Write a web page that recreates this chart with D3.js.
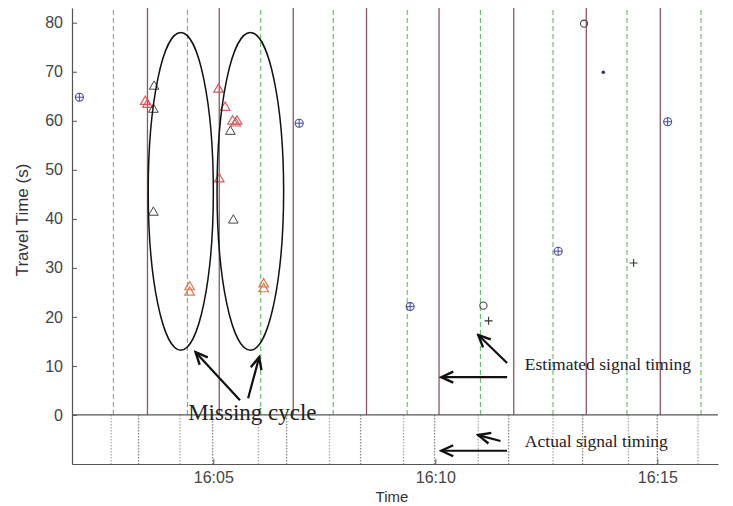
<!DOCTYPE html>
<html>
<head>
<meta charset="utf-8">
<script src="https://cdn.jsdelivr.net/npm/d3@7"></script>
<style>
body { margin: 0; background: #fff; }
.axis text { font-family: "Liberation Sans", Arial, sans-serif; font-size: 16px; fill: #444; }
.axis path, .axis line { stroke: #555; }
.note { font-family: "Liberation Serif", "Times New Roman", serif; fill: #222; }
</style>
</head>
<body>
<div id="chart"></div>
<script>
// estimated signal timing (upper panel)
const estRedStart = ["16:03:31", "16:05:08", "16:06:48", "16:08:27", "16:10:05", "16:11:46", "16:13:24", "16:15:04"];
const estGreenStart = ["16:02:45", "16:04:25", "16:06:04", "16:07:42", "16:09:22", "16:11:01", "16:12:39", "16:14:19", "16:15:59"];
// actual signal timing (lower panel)
const actLight = ["16:02:42", "16:04:15", "16:06:01", "16:07:37", "16:09:17", "16:10:58", "16:12:39", "16:14:21", "16:15:55"];
const actDark = ["16:03:19", "16:04:59", "16:06:39", "16:08:19", "16:09:59", "16:11:39", "16:13:19", "16:15:00"];

// travel time samples [time, seconds]
const redTriangles = [
    ["16:03:28", 63.9], ["16:03:31", 63.3], ["16:04:28", 26.1], ["16:04:28", 25.0],
    ["16:05:07", 66.4], ["16:05:16", 62.7], ["16:05:26", 59.9], ["16:05:30", 59.5],
    ["16:05:32", 59.9], ["16:05:08", 48.1], ["16:06:08", 26.7], ["16:06:08", 25.7]
];
const blackTriangles = [
    ["16:03:40", 67.0], ["16:03:39", 62.3], ["16:03:39", 41.3], ["16:05:23", 57.8], ["16:05:27", 39.7]
];
const blueCrossCircles = [
    ["16:01:59", 64.8], ["16:06:56", 59.5], ["16:09:26", 22.1], ["16:12:46", 33.4], ["16:15:14", 59.8]
];
const blueDots = [["16:13:47", 69.9]];
const blackCircles = [["16:13:21", 79.8], ["16:11:05", 22.3]];
const blackPlus = [["16:14:28", 31.0], ["16:11:12", 19.2]];

const yTicks = [0, 10, 20, 30, 40, 50, 60, 70, 80];
const xTicks = ["16:05:00", "16:10:00", "16:15:00"];

// annotations
const ellipses = [
    { t: "16:04:16", v: 45.6, dt: 44, dv: 32.4 },
    { t: "16:05:50", v: 45.6, dt: 45, dv: 32.4 }
];
const arrows = [
    { from: ["16:05:36", 3.0], to: ["16:04:36", 12.8] },
    { from: ["16:05:47", 3.4], to: ["16:06:02", 11.8] },
    { from: ["16:11:37", 7.7], to: ["16:10:08", 7.7] },
    { from: ["16:11:37", 10.6], to: ["16:10:58", 16.3] },
    { from: ["16:11:37", -7.3], to: ["16:10:08", -7.3] },
    { from: ["16:11:28", -5.3], to: ["16:10:58", -4.1] }
];
const notes = [
    { text: "Missing cycle", t: "16:04:26", v: -1.1, size: 23 },
    { text: "Estimated signal timing", t: "16:12:01", v: 9.2, size: 17.5 },
    { text: "Actual signal timing", t: "16:12:01", v: -6.6, size: 17.5 }
];

const parse = d3.timeParse("%H:%M:%S");

class TravelChart {
    constructor(width, height) {
        this.width = width;
        this.height = height;
        this.x = d3.scaleTime()
            .domain([parse("16:01:49"), parse("16:16:22")])
            .range([72, 718]);
        this.y = d3.scaleLinear()
            .domain([-10, 83])
            .range([464, 8]);
    }

    renderSvg(id) {
        this.svg = d3.select(id).append("svg")
            .attr("width", this.width)
            .attr("height", this.height);
        this.svg.append("rect").attr("width", this.width).attr("height", this.height).attr("fill", "#fff");

        this.svg.append("defs").append("marker")
            .attr("id", "head")
            .attr("viewBox", "-14 -7 16 14")
            .attr("refX", 0).attr("refY", 0)
            .attr("markerWidth", 16).attr("markerHeight", 14)
            .attr("markerUnits", "userSpaceOnUse")
            .attr("orient", "auto")
            .append("path")
            .attr("d", "M-12,-5.5 L0,0 L-12,5.5")
            .attr("fill", "none")
            .attr("stroke", "#111")
            .attr("stroke-width", 2.4);
    }

    renderSignalLines() {
        const x = this.x, y = this.y;
        const g = this.svg.append("g");
        g.selectAll(".green").data(estGreenStart).enter().append("line")
            .attr("x1", d => x(parse(d))).attr("x2", d => x(parse(d)))
            .attr("y1", y(0)).attr("y2", y(83))
            .attr("stroke", "#6cbf72").attr("stroke-width", 1.2)
            .attr("stroke-dasharray", "5,3");
        g.selectAll(".red").data(estRedStart).enter().append("line")
            .attr("x1", d => x(parse(d))).attr("x2", d => x(parse(d)))
            .attr("y1", y(0)).attr("y2", y(83))
            .attr("stroke", "#8e5565").attr("stroke-width", 1.3);
        g.selectAll(".light").data(actLight).enter().append("line")
            .attr("x1", d => x(parse(d))).attr("x2", d => x(parse(d)))
            .attr("y1", y(0)).attr("y2", y(-10))
            .attr("stroke", "#aaa").attr("stroke-width", 1.3)
            .attr("stroke-dasharray", "1.5,1.5");
        g.selectAll(".dark").data(actDark).enter().append("line")
            .attr("x1", d => x(parse(d))).attr("x2", d => x(parse(d)))
            .attr("y1", y(0)).attr("y2", y(-10))
            .attr("stroke", "#888").attr("stroke-width", 1.3)
            .attr("stroke-dasharray", "1.5,1.5");
    }

    renderAxis() {
        const x = this.x, y = this.y;
        this.svg.append("line")
            .attr("x1", x.range()[0]).attr("x2", x.range()[1])
            .attr("y1", y(0)).attr("y2", y(0))
            .attr("stroke", "#555").attr("stroke-width", 1.2);

        this.svg.append("g")
            .attr("class", "axis")
            .attr("transform", "translate(0," + y(-10) + ")")
            .call(d3.axisBottom(x).tickValues(xTicks.map(parse))
                .tickFormat(d3.timeFormat("%H:%M")).tickSizeInner(-5).tickSizeOuter(0).tickPadding(8));

        this.svg.append("g")
            .attr("class", "axis")
            .attr("transform", "translate(" + x.range()[0] + ",0)")
            .call(d3.axisLeft(y).tickValues(yTicks).tickSizeInner(-5).tickSizeOuter(0).tickPadding(9));

        this.svg.selectAll(".axis path").attr("stroke-width", 1.2);
    }

    renderLabels() {
        this.svg.append("text")
            .attr("transform", "rotate(-90)")
            .attr("x", -220)
            .attr("y", 28)
            .style("text-anchor", "middle")
            .style("font-family", "Liberation Sans, Arial, sans-serif")
            .style("font-size", "17px")
            .style("fill", "#333")
            .text("Travel Time (s)");

        this.svg.append("text")
            .attr("x", 392)
            .attr("y", 502)
            .style("text-anchor", "middle")
            .style("font-family", "Liberation Sans, Arial, sans-serif")
            .style("font-size", "15px")
            .style("fill", "#333")
            .text("Time");
    }

    renderMarkers() {
        const x = this.x, y = this.y;
        const tri = d3.symbol().type(d3.symbolTriangle).size(40);
        const g = this.svg.append("g");

        g.selectAll(".rt").data(redTriangles).enter().append("path")
            .attr("d", tri)
            .attr("transform", d => "translate(" + x(parse(d[0])) + "," + y(d[1]) + ")")
            .attr("fill", "none")
            .attr("stroke", d => d[1] < 30 ? "#e07850" : "#d85a5e")
            .attr("stroke-width", 1.2);

        g.selectAll(".bt").data(blackTriangles).enter().append("path")
            .attr("d", tri)
            .attr("transform", d => "translate(" + x(parse(d[0])) + "," + y(d[1]) + ")")
            .attr("fill", "none")
            .attr("stroke", "#444")
            .attr("stroke-width", 1);

        const cross = g.selectAll(".bc").data(blueCrossCircles).enter().append("g")
            .attr("transform", d => "translate(" + x(parse(d[0])) + "," + y(d[1]) + ")");
        cross.append("circle").attr("r", 4).attr("fill", "none").attr("stroke", "#4a4aa6").attr("stroke-width", 1.1);
        cross.append("path").attr("d", "M-4,0H4M0,-4V4").attr("stroke", "#4a4aa6").attr("stroke-width", 1);

        g.selectAll(".bd").data(blueDots).enter().append("circle")
            .attr("cx", d => x(parse(d[0]))).attr("cy", d => y(d[1]))
            .attr("r", 1.8).attr("fill", "#333380");

        g.selectAll(".ko").data(blackCircles).enter().append("circle")
            .attr("cx", d => x(parse(d[0]))).attr("cy", d => y(d[1]))
            .attr("r", 3.6).attr("fill", "none").attr("stroke", "#444").attr("stroke-width", 1.1);

        g.selectAll(".kp").data(blackPlus).enter().append("path")
            .attr("transform", d => "translate(" + x(parse(d[0])) + "," + y(d[1]) + ")")
            .attr("d", "M-4,0H4M0,-4V4")
            .attr("stroke", "#333").attr("stroke-width", 1.1);
    }

    renderNotes() {
        const x = this.x, y = this.y;
        this.svg.selectAll(".ell").data(ellipses).enter().append("ellipse")
            .attr("cx", d => x(parse(d.t)))
            .attr("cy", d => y(d.v))
            .attr("rx", d => x(d3.timeSecond.offset(parse(d.t), d.dt)) - x(parse(d.t)))
            .attr("ry", d => y(0) - y(d.dv))
            .attr("fill", "none")
            .attr("stroke", "#111")
            .attr("stroke-width", 1.5);

        this.svg.selectAll(".arrow").data(arrows).enter().append("line")
            .attr("x1", d => x(parse(d.from[0]))).attr("y1", d => y(d.from[1]))
            .attr("x2", d => x(parse(d.to[0]))).attr("y2", d => y(d.to[1]))
            .attr("stroke", "#111")
            .attr("stroke-width", 2.2)
            .attr("marker-end", "url(#head)");

        this.svg.selectAll(".note").data(notes).enter().append("text")
            .attr("class", "note")
            .attr("x", d => x(parse(d.t)))
            .attr("y", d => y(d.v))
            .style("font-size", d => d.size + "px")
            .text(d => d.text);
    }

    render(id) {
        this.renderSvg(id);
        this.renderSignalLines();
        this.renderAxis();
        this.renderLabels();
        this.renderMarkers();
        this.renderNotes();
    }
}

new TravelChart(733, 506).render("#chart");
</script>
</body>
</html>
